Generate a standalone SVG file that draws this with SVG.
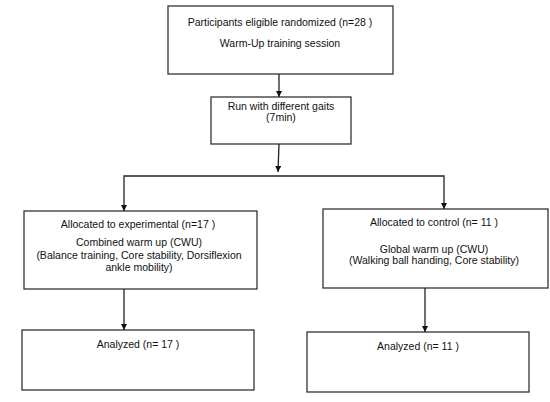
<svg xmlns="http://www.w3.org/2000/svg" width="550" height="402" viewBox="0 0 550 402">
<style>
.box{fill:#fff;stroke:#333;stroke-width:1.3}
.t{font-family:"Liberation Sans",Arial,sans-serif;font-size:10.5px;fill:#111;text-anchor:middle}
.c{fill:none;stroke:#222;stroke-width:1.3}
</style>
<defs>
<marker id="ah" viewBox="0 0 10 10" refX="10" refY="5" markerWidth="6" markerHeight="6" markerUnits="userSpaceOnUse" orient="auto">
<path d="M0,0 L10,5 L0,10 z" fill="#111"/>
</marker>
</defs>
<rect width="550" height="402" fill="#fff"/>
<g id="n1"><rect class="box" x="168" y="6" width="225" height="68"/>
<text class="t" x="280" y="26">Participants eligible randomized (n=28 )</text>
<text class="t" x="280" y="47">Warm-Up training session</text></g>
<g id="n2"><rect class="box" x="211" y="97" width="140" height="47"/>
<text class="t" x="281" y="110">Run with different gaits</text>
<text class="t" x="281" y="121">(7min)</text></g>
<g id="n3"><rect class="box" x="24" y="211" width="233" height="78"/>
<text class="t" x="138" y="228">Allocated to experimental (n=17 )</text>
<text class="t" x="139" y="246">Combined warm up (CWU)</text>
<text class="t" x="139" y="259">(Balance training, Core stability, Dorsiflexion</text>
<text class="t" x="139" y="271">ankle mobility)</text></g>
<g id="n4"><rect class="box" x="323" y="209" width="225" height="79"/>
<text class="t" x="434" y="226">Allocated to control (n= 11 )</text>
<text class="t" x="434" y="253">Global warm up (CWU)</text>
<text class="t" x="434" y="264">(Walking ball handing, Core stability)</text></g>
<g id="n5"><rect class="box" x="22" y="330" width="232" height="60"/>
<text class="t" x="138" y="348">Analyzed (n= 17 )</text></g>
<g id="n6"><rect class="box" x="307" y="332" width="222" height="60"/>
<text class="t" x="418" y="350">Analyzed (n= 11 )</text></g>
<g id="connectors">
<line class="c" x1="279" y1="74" x2="279" y2="97" marker-end="url(#ah)"/>
<line class="c" x1="279" y1="144" x2="278" y2="172" marker-end="url(#ah)"/>
<path class="c" d="M279,176 H124 V211" marker-end="url(#ah)"/>
<path class="c" d="M279,176 H444 V209" marker-end="url(#ah)"/>
<line class="c" x1="124" y1="289" x2="124" y2="330" marker-end="url(#ah)"/>
<line class="c" x1="425" y1="288" x2="425" y2="332" marker-end="url(#ah)"/>
</g>
</svg>
